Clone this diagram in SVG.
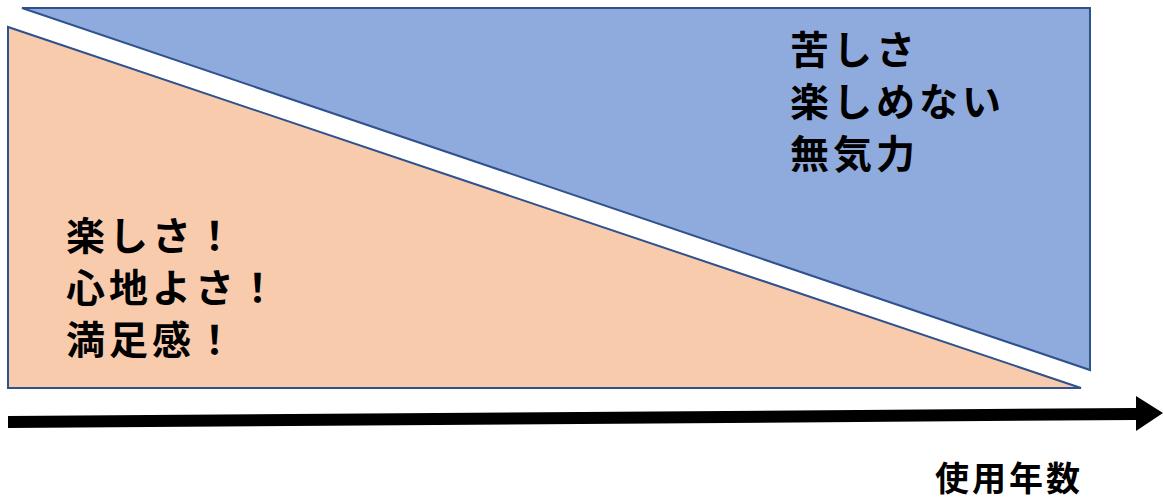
<svg xmlns="http://www.w3.org/2000/svg" width="1163" height="501" viewBox="0 0 1163 501">
<style>
.shape{stroke:#2F528F;stroke-width:2;stroke-linejoin:miter}
.t{font-family:"Noto Sans CJK JP","Noto Sans",sans-serif;font-weight:bold;fill:#000}
</style>
<rect width="1163" height="501" fill="#fff"/>
<g id="blue-area">
<polygon class="shape" fill="#8FAADC" points="22,8 1090,8 1090,370"/>
<text class="t" font-size="39" letter-spacing="4"><tspan x="790" y="64">苦しさ</tspan><tspan x="790" y="116">楽しめない</tspan><tspan x="790" y="168">無気力</tspan></text>
</g>
<g id="orange-area">
<polygon class="shape" fill="#F8CBAD" points="8,27 8,388 1081,388"/>
<text class="t" font-size="39" letter-spacing="4"><tspan x="66" y="250">楽しさ！</tspan><tspan x="66" y="302">心地よさ！</tspan><tspan x="66" y="354">満足感！</tspan></text>
</g>
<g id="connectors">
<polygon fill="#000" points="8,416 1136,408 1136,396 1163,413 1136,431 1136,420 8,428"/>
</g>
<g id="axis-label">
<text class="t" x="935" y="491" font-size="34" letter-spacing="3">使用年数</text>
</g>
</svg>
